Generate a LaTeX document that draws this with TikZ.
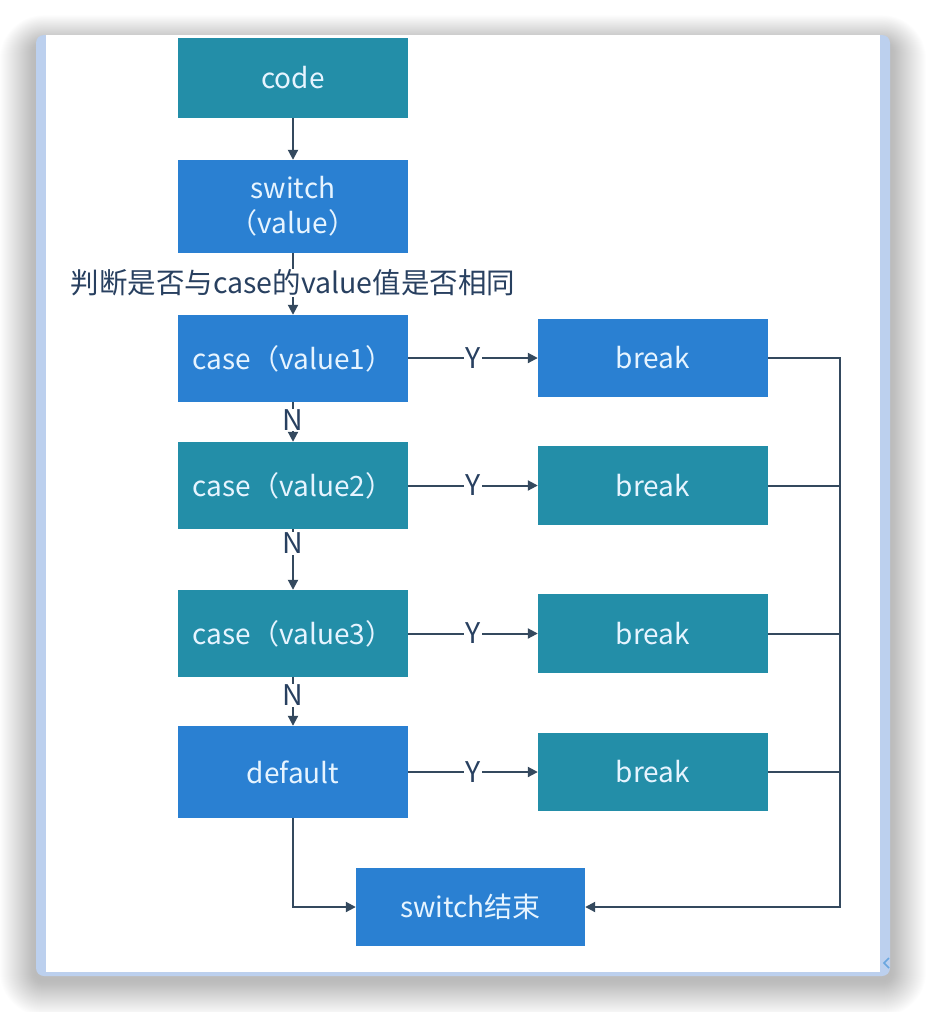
\documentclass[tikz,border=0pt]{standalone}
\usepackage{fontspec}
\setmainfont{Noto Sans CJK SC}
\usetikzlibrary{arrows.meta,calc}
\definecolor{boxblue}{RGB}{42,128,210}
\definecolor{boxteal}{RGB}{35,142,168}
\definecolor{linecol}{RGB}{52,73,94}
\definecolor{txtcol}{RGB}{230,244,255}
\definecolor{lblcol}{RGB}{40,64,96}
\definecolor{framecol}{RGB}{188,208,238}
\tikzset{
  bx/.style={draw=none, minimum width=230pt, inner sep=0pt, align=center,
    text=txtcol, font=\fontsize{28}{35}\selectfont},
  bluebx/.style={bx, fill=boxblue},
  tealbx/.style={bx, fill=boxteal},
  conn/.style={draw=linecol, line width=2pt, -{Triangle[length=10pt,width=10pt]}},
  plain/.style={draw=linecol, line width=2pt},
  lbl/.style={fill=white, text=lblcol, inner sep=1pt, font=\fontsize{28.5}{32}\selectfont},
}
\begin{document}
\begin{tikzpicture}[x=1pt,y=-1pt]
\useasboundingbox (0,0) rectangle (926,1012);
% shadow
\foreach \i in {1,...,36}{
  \fill[black, opacity=0.0065, rounded corners=8pt+\i pt] (36-\i,44-0.8*\i) rectangle (890+\i,980+\i);
}
% frame
\fill[framecol, rounded corners=8pt] (36,35) rectangle (890,976);
\fill[white] (46,35) rectangle (880,972);
% small chevron
\draw[draw=boxblue!70!white, line width=1.6pt] (889,958) -- (884,963) -- (889,968);
% boxes
\node[tealbx, minimum height=80pt] (code) at (293,78) {code};
\node[bluebx, minimum height=93pt] (sw) at (293,206.5) {switch\\（value）};
\node[bluebx, minimum height=87pt] (c1) at (293,358.5) {case（value1）};
\node[bluebx, minimum height=78pt] (b1) at (653,358) {break};
\node[tealbx, minimum height=87pt] (c2) at (293,485.5) {case（value2）};
\node[tealbx, minimum height=79pt] (b2) at (653,485.5) {break};
\node[tealbx, minimum height=87pt] (c3) at (293,633.5) {case（value3）};
\node[tealbx, minimum height=79pt] (b3) at (653,633.5) {break};
\node[bluebx, minimum height=92pt] (def) at (293,772) {default};
\node[tealbx, minimum height=78pt] (b4) at (653,772) {break};
\node[bluebx, minimum width=229pt, minimum height=78pt] (end) at (470.5,907) {switch结束};
\coordinate (bus) at (840,907);
% vertical connectors
\draw[conn] (code.south) -- (sw.north);
\draw[conn] (sw.south) -- node[lbl, pos=0.48] (q) {判断是否与case的value值是否相同} (c1.north);
\draw[conn] (c1.south) -- node[lbl, pos=0.45] (n1) {N} (c2.north);
\draw[conn] (c2.south) -- node[lbl, pos=0.23] (n2) {N} (c3.north);
\draw[conn] (c3.south) -- node[lbl, pos=0.37] (n3) {N} (def.north);
% Y connectors
\draw[conn] (c1.east |- b1.west) -- node[lbl] (y1) {Y} (b1.west);
\draw[conn] (c2.east |- b2.west) -- node[lbl] (y2) {Y} (b2.west);
\draw[conn] (c3.east |- b3.west) -- node[lbl] (y3) {Y} (b3.west);
\draw[conn] (def.east |- b4.west) -- node[lbl] (y4) {Y} (b4.west);
% bus
\draw[conn] (b1.east) -| (bus) -- (end.east);
\draw[plain] (b2.east) -- (b2.east -| bus);
\draw[plain] (b3.east) -- (b3.east -| bus);
\draw[plain] (b4.east) -- (b4.east -| bus);
\draw[conn] (def.south) |- (end.west);
\end{tikzpicture}
\end{document}
